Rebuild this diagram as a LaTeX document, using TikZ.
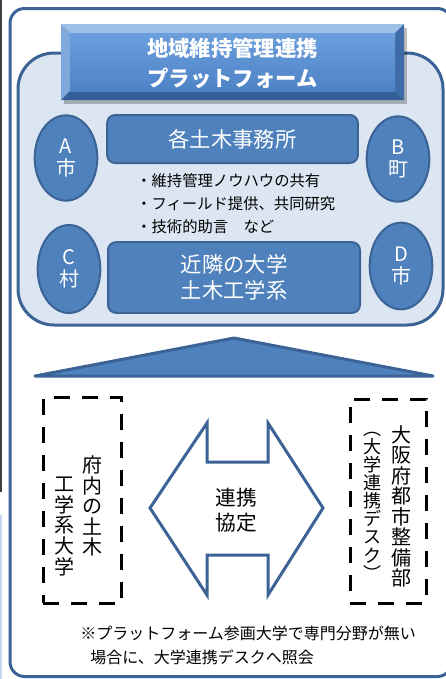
\documentclass[tikz,border=0pt]{standalone}
\usepackage{fontspec}
\setmainfont{Noto Sans CJK JP}
\usetikzlibrary{shapes.geometric}
\definecolor{boxblue}{HTML}{4F81BD}
\definecolor{edgeblue}{HTML}{3B6395}
\definecolor{paleblue}{HTML}{DCE6F2}
\definecolor{sideblue}{HTML}{C6D9F1}
\definecolor{bevtop}{HTML}{9DBFE8}
\definecolor{bevleft}{HTML}{7FA8DC}
\definecolor{bevright}{HTML}{3E6CA8}
\definecolor{bevbottom}{HTML}{34609A}
\definecolor{titletop}{HTML}{6A9EDD}
\definecolor{titlebottom}{HTML}{4E83C6}

\begin{document}
\begin{tikzpicture}[x=0.75pt,y=-0.75pt,
  city/.style={ellipse,draw=edgeblue,fill=boxblue,line width=1.5pt,minimum width=47pt,minimum height=64pt,inner sep=0pt,text=white,align=center,font=\fontsize{15}{16.5}\selectfont},
  bluebox/.style={draw=edgeblue,fill=boxblue,line width=1.5pt,rounded corners=6pt,text=white,align=center,font=\fontsize{16}{19}\selectfont},
  dashbox/.style={draw=black,line width=2.25pt,dash pattern=on 12pt off 9pt},
  tate/.style={align=center,inner sep=0pt,font=\fontsize{15}{15.4}\selectfont}]
\useasboundingbox (0,0) rectangle (446,679);
% frame
\draw[line width=1.2pt,black!75] (1,0) -- (1,492);
\draw[line width=1.2pt,sideblue] (1,515) -- (1,679);
\draw[edgeblue,line width=2.25pt,rounded corners=11pt] (10,8.5) rectangle (452,676.5);
\draw[edgeblue,fill=paleblue,line width=2.25pt,rounded corners=27pt] (18,53) rectangle (443,325);
% title
\fill[black,opacity=.25] (64,28) rectangle (407,104);
\fill[bevtop] (61,24) -- (404,24) -- (395,33) -- (70,33) -- cycle;
\fill[bevleft] (61,24) -- (70,33) -- (70,91) -- (61,100) -- cycle;
\fill[bevright] (404,24) -- (404,100) -- (395,91) -- (395,33) -- cycle;
\fill[bevbottom] (61,100) -- (404,100) -- (395,91) -- (70,91) -- cycle;
\shade[top color=titletop,bottom color=titlebottom] (70,33) rectangle (395,91);
\node[text=white,align=center,font=\bfseries\fontsize{16}{23}\selectfont] (title) at (232.5,63.5) {地域維持管理連携\\プラットフォーム};
% platform members
\node[bluebox,minimum width=188pt,minimum height=36pt] (jimusho) at (232.5,139) {各土木事務所};
\node[bluebox,minimum width=189pt,minimum height=53pt] (daigaku) at (234,277.5) {近隣の大学\\土木工学系};
\node[anchor=west,align=left,inner sep=0pt,font=\fontsize{11.5}{17.25}\selectfont] (kyoyu) at (136,204) {・維持管理ノウハウの共有\\・フィールド提供、共同研究\\・技術的助言　など};
\node[city] (a) at (66,158) {A\\市};
\node[city] (b) at (398,159) {B\\町};
\node[city,minimum height=66pt] (c) at (69,269) {C\\村};
\node[city,minimum height=65pt] (d) at (401,266) {D\\市};
\draw[edgeblue,fill=boxblue,line width=2.25pt,line join=round] (234,338) -- (433,376) -- (35,376) -- cycle;
% agreement
\node[dashbox,minimum width=59pt,minimum height=154pt] (fuunai) at (82.5,500.5) {};
\node[dashbox,minimum width=57pt,minimum height=153pt] (osaka) at (388,501) {};
\node[tate] (fu1) at (92,506) {府\\内\\の\\土\\木};
\node[tate] (fu2) at (65,526.5) {工\\学\\系\\大\\学};
\node[tate] (os1) at (401,506.5) {大\\阪\\府\\都\\市\\整\\備\\部};
\node[tate,font=\fontsize{13.5}{13.6}\selectfont] (os2) at (372,506) {︵\\大\\学\\連\\携\\デ\\ス\\ク\\︶};
\draw[edgeblue,fill=white,line width=2.25pt] (150,508) -- (207,423) -- (207,462) -- (268,462) -- (268,423) -- (323,508) -- (268,595) -- (268,555) -- (207,555) -- (207,595) -- cycle;
\node[align=center,font=\fontsize{15.5}{18.75}\selectfont] (kyotei) at (236,510.5) {連携\\協定};
\node[anchor=west,inner sep=0pt,font=\fontsize{12}{14}\selectfont] (note1) at (80,633) {※プラットフォーム参画大学で専門分野が無い};
\node[anchor=west,inner sep=0pt,font=\fontsize{12}{14}\selectfont] (note2) at (90,657) {場合に、大学連携デスクへ照会};
\end{tikzpicture}
\end{document}
